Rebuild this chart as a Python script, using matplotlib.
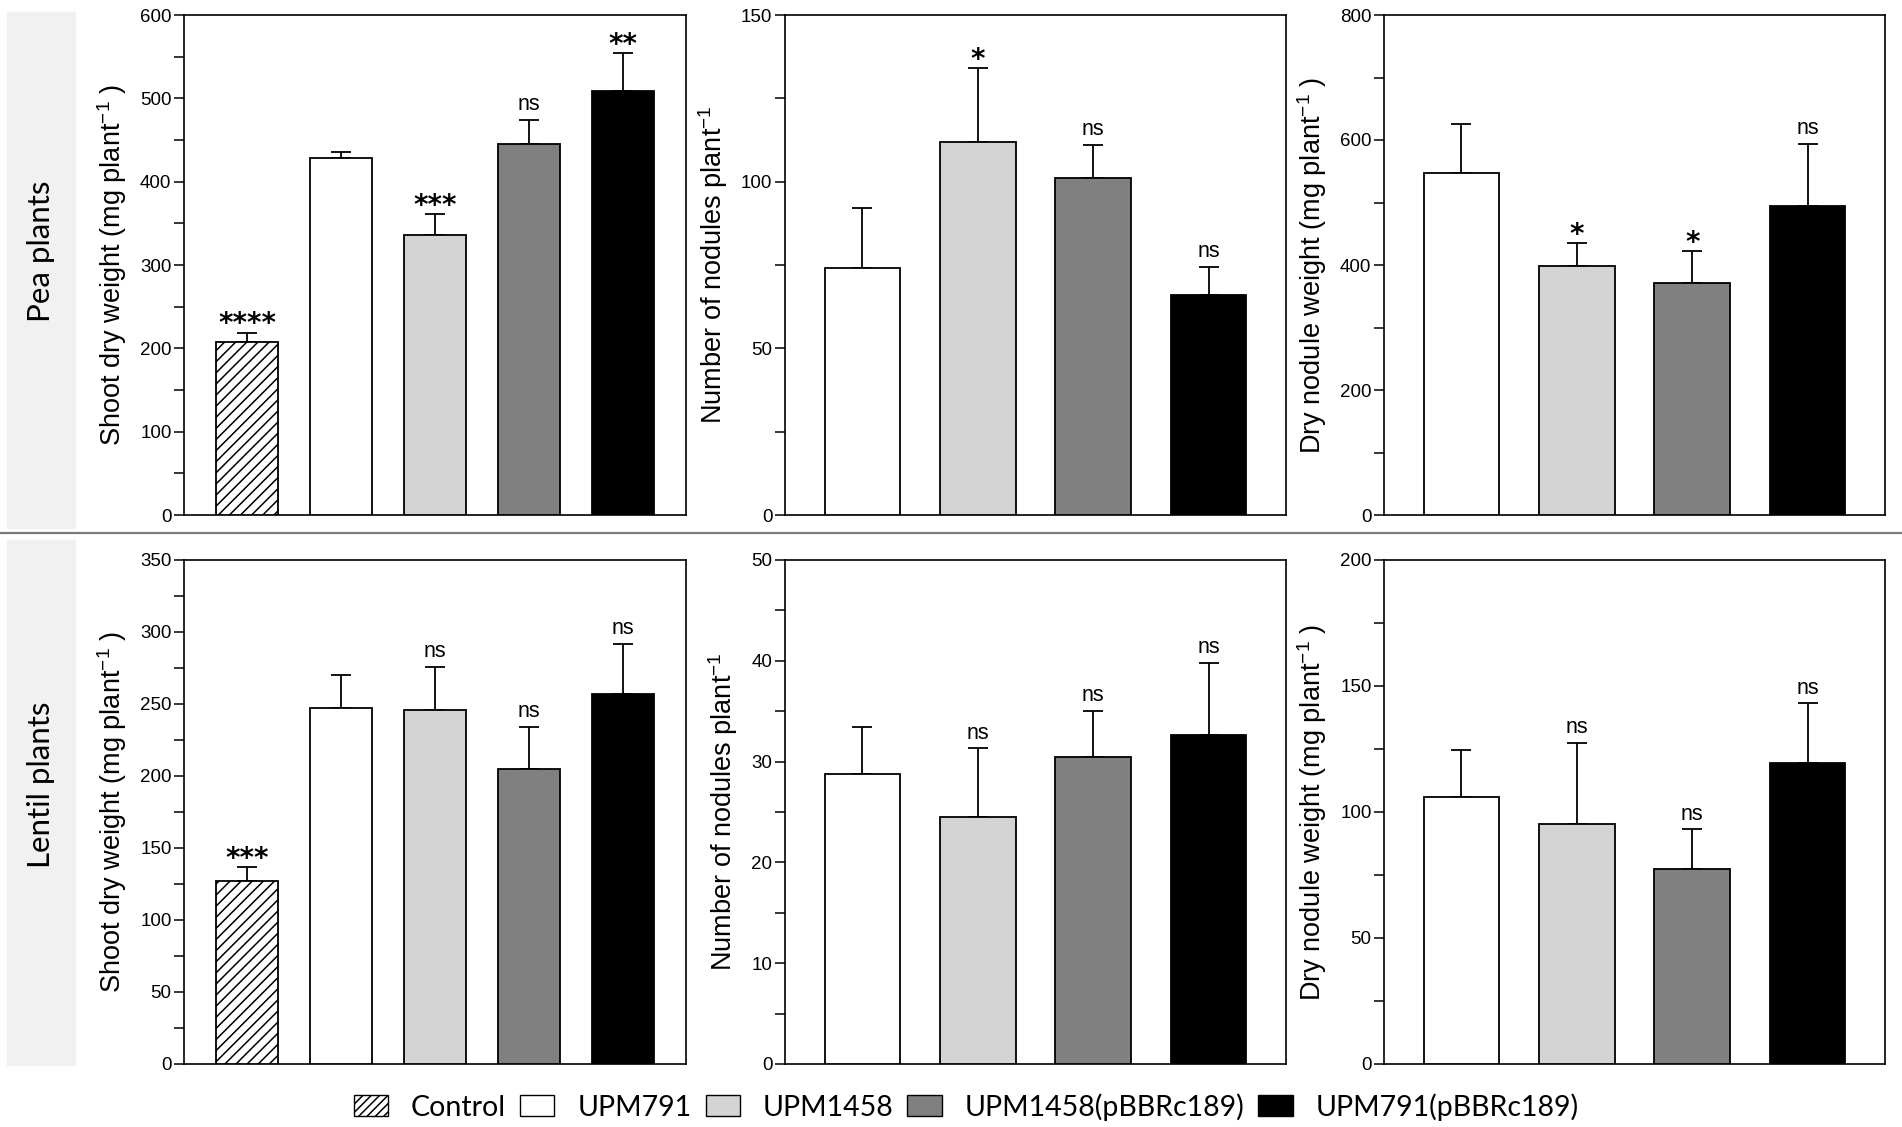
import numpy as np
import matplotlib
matplotlib.use("Agg")
import matplotlib.pyplot as plt
from matplotlib.patches import Patch, Rectangle
from matplotlib.lines import Line2D

# ---------------
# DATA
# ---------------
strains_all = ["Control", "UPM791", "UPM1458", "UPM1458(pBBRc189)", "UPM791(pBBRc189)"]
strains_inoc = strains_all[1:]

# pea plants
pea_shoot_mean = [208, 429, 336, 445, 509]
pea_shoot_err = [11, 7, 25, 29, 45]
pea_shoot_sig = ["****", "", "***", "ns", "**"]

pea_nod_mean = [74, 112, 101, 66]
pea_nod_err = [18, 22, 10, 8.5]
pea_nod_sig = ["", "*", "ns", "ns"]

pea_nodw_mean = [547, 399, 372, 494]
pea_nodw_err = [79, 36, 51, 100]
pea_nodw_sig = ["", "*", "*", "ns"]

# lentil plants
len_shoot_mean = [127, 247, 246, 205, 257]
len_shoot_err = [9.5, 23, 30, 29, 35]
len_shoot_sig = ["***", "", "ns", "ns", "ns"]

len_nod_mean = [28.8, 24.5, 30.5, 32.6]
len_nod_err = [4.6, 6.8, 4.5, 7.2]
len_nod_sig = ["", "ns", "ns", "ns"]

len_nodw_mean = [106, 95.3, 77.5, 119.6]
len_nodw_err = [18.6, 32, 15.6, 23.5]
len_nodw_sig = ["", "ns", "ns", "ns"]

fill = {"Control": "white", "UPM791": "white", "UPM1458": "#d4d4d4",
        "UPM1458(pBBRc189)": "#808080", "UPM791(pBBRc189)": "black"}

lab_shoot = "Shoot dry weight (mg plant$^{-1}$ )"
lab_nod = "Number of nodules plant$^{-1}$"
lab_nodw = "Dry nodule weight (mg plant$^{-1}$ )"

panels = [
    # row, col, strains, means, errs, sigs, ymax, major, label
    (0, 0, strains_all, pea_shoot_mean, pea_shoot_err, pea_shoot_sig, 600, 100, lab_shoot),
    (0, 1, strains_inoc, pea_nod_mean, pea_nod_err, pea_nod_sig, 150, 50, lab_nod),
    (0, 2, strains_inoc, pea_nodw_mean, pea_nodw_err, pea_nodw_sig, 800, 200, lab_nodw),
    (1, 0, strains_all, len_shoot_mean, len_shoot_err, len_shoot_sig, 350, 50, lab_shoot),
    (1, 1, strains_inoc, len_nod_mean, len_nod_err, len_nod_sig, 50, 10, lab_nod),
    (1, 2, strains_inoc, len_nodw_mean, len_nodw_err, len_nodw_sig, 200, 50, lab_nodw),
]

plt.rcParams["font.family"] = ["Liberation Sans", "DejaVu Sans"]
plt.rcParams["mathtext.fontset"] = "custom"
plt.rcParams["mathtext.rm"] = "Liberation Sans"
plt.rcParams["mathtext.it"] = "Liberation Sans"
plt.rcParams["hatch.linewidth"] = 1.1

W, H = 1902, 1127
fig = plt.figure(figsize=(W / 100, H / 100), dpi=100)

# axes boxes in pixels: left, right ; top, bottom
cols_px = [(184, 686), (785, 1286), (1384, 1885)]
rows_px = [(15, 515), (560, 1064)]

# ---------------
# BACKGROUND DECORATION
# ---------------
fig.patches.append(Rectangle((7 / W, 1 - 528 / H), 68 / W, 516 / H,
                             transform=fig.transFigure, color="#f1f1f1", zorder=0))
fig.patches.append(Rectangle((7 / W, 1 - 1065 / H), 68 / W, 525 / H,
                             transform=fig.transFigure, color="#f1f1f1", zorder=0))
fig.lines.append(Line2D([0, 1], [1 - 533 / H, 1 - 533 / H], transform=fig.transFigure,
                        color="#7a7a7a", linewidth=1.6))

fig.text(41 / W, 1 - 251 / H, "Pea plants", rotation=90, ha="center", va="center",
         fontsize=22.5, family=["Lato", "DejaVu Sans"])
fig.text(41 / W, 1 - 785 / H, "Lentil plants", rotation=90, ha="center", va="center",
         fontsize=22.5, family=["Lato", "DejaVu Sans"])

# ---------------
# DRAW PANELS
# ---------------
for r, c, names, means, errs, sigs, ymax, major, ylabel in panels:
    l, rr = cols_px[c]
    t, b = rows_px[r]
    ax = fig.add_axes([l / W, 1 - b / H, (rr - l) / W, (b - t) / H])
    x = np.arange(len(names))
    for i, n in enumerate(names):
        ax.bar(x[i], means[i], width=0.655, color=fill[n], edgecolor="black",
               linewidth=1.3, hatch="///" if n == "Control" else None, zorder=3)
    ax.errorbar(x, means, yerr=[np.zeros(len(x)), errs], fmt="none", ecolor="black",
                elinewidth=1.3, capsize=7, capthick=1.3, zorder=2)
    for i in range(len(names)):
        s = sigs[i]
        if not s:
            continue
        top = means[i] + errs[i]
        if "*" in s:
            ax.annotate(s, xy=(x[i], top), xytext=(0, 0), textcoords="offset points",
                        ha="center", va="baseline", fontsize=20, fontweight="bold",
                        family="DejaVu Sans")
        else:
            ax.annotate(s, xy=(x[i], top), xytext=(0, 7), textcoords="offset points",
                        ha="center", va="baseline", fontsize=15.5)
    ax.set_xlim(-0.67, len(names) - 1 + 0.67)
    ax.set_ylim(0, ymax)
    ax.set_yticks(np.arange(0, ymax + 1, major))
    ax.set_yticks(np.arange(major / 2, ymax, major), minor=True)
    ax.set_xticks([])
    ax.tick_params(axis="y", which="both", direction="out", length=7, width=1.1,
                   labelsize=13.5, pad=2)
    for sp in ax.spines.values():
        sp.set_linewidth(1.2)
    ax.set_ylabel(ylabel, fontsize=19.5, labelpad=8)

# ---------------
# LEGEND
# ---------------
handles = [Patch(facecolor=fill[n], edgecolor="black", linewidth=1.0,
                 hatch="////" if n == "Control" else None) for n in strains_all]
fig.legend(handles, strains_all, loc="center", bbox_to_anchor=(0.508, 1 - 1107 / H),
           ncol=5, frameon=False, handlelength=1.2, handleheight=0.75,
           handletextpad=0.8, columnspacing=0.5,
           prop={"family": ["Lato", "DejaVu Sans"], "size": 20.5})

fig.savefig("out.png", dpi=100)
